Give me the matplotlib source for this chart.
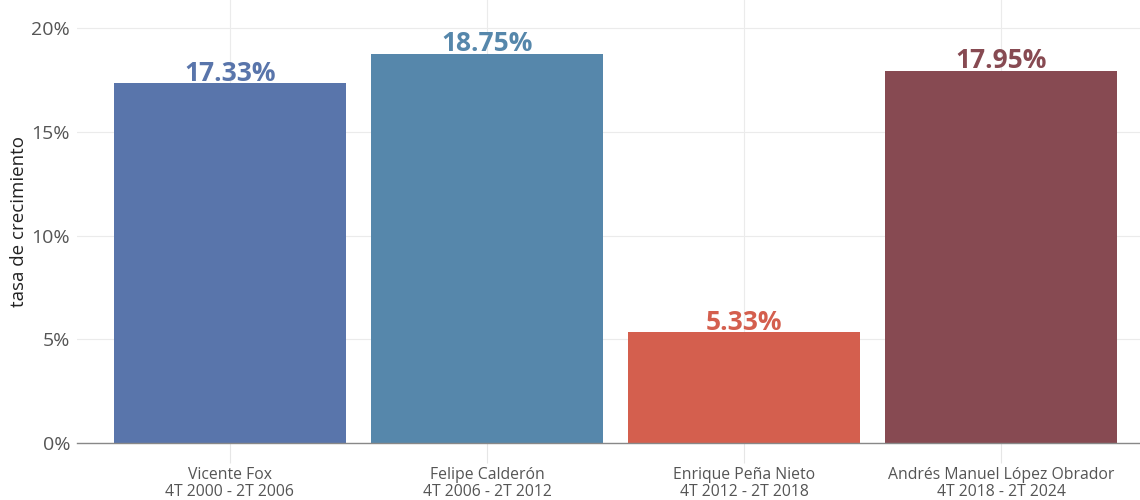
import matplotlib
matplotlib.use('Agg')
import matplotlib.pyplot as plt
from matplotlib.ticker import FuncFormatter

presidentes = ['Vicente Fox', 'Felipe Calderón', 'Enrique Peña Nieto', 'Andrés Manuel López Obrador']
periodos = ['4T 2000 - 2T 2006', '4T 2006 - 2T 2012', '4T 2012 - 2T 2018', '4T 2018 - 2T 2024']
crecimiento = [17.33, 18.75, 5.33, 17.95]
colores = ['#5975ab', '#5687ab', '#d45f4e', '#874a52']

plt.rcParams['font.family'] = ['Open Sans', 'DejaVu Sans']

fig = plt.figure(figsize=(11.4, 5), dpi=100)
ax = fig.add_axes([0.0675, 0.114, 0.9325, 0.886])

x = list(range(1, len(crecimiento) + 1))
ax.bar(x, crecimiento, width=0.9, color=colores, zorder=2)

for xi, v, c in zip(x, crecimiento, colores):
    ax.annotate('%.2f%%' % v, (xi, v), xytext=(0, 2), textcoords='offset points',
                ha='center', va='baseline', fontsize=19, fontweight='bold',
                color=c, zorder=3)

ax.set_xlim(0.405, 4.54)
ax.set_ylim(0, 21.35)
ax.set_yticks([0, 5, 10, 15, 20])
ax.yaxis.set_major_formatter(FuncFormatter(lambda v, p: '%d%%' % v))
ax.set_xticks(x)
ax.set_xticklabels([p + '\n' + q for p, q in zip(presidentes, periodos)],
                   fontsize=11.3, color='#555555', linespacing=1.07)
ax.tick_params(axis='y', labelsize=14, labelcolor='#555555', length=0, pad=5)
ax.tick_params(axis='x', length=14.5, color='#e6e6e6', width=0.8, pad=3)

ax.grid(True, color='#ebebeb', linewidth=0.8, zorder=0)
for s in ['top', 'right', 'left']:
    ax.spines[s].set_visible(False)
ax.spines['bottom'].set_color('#888888')
ax.spines['bottom'].set_linewidth(1)

ax.set_ylabel('tasa de crecimiento', fontsize=13.5, color='#222222', labelpad=2)

fig.savefig('out.png', dpi=100)
